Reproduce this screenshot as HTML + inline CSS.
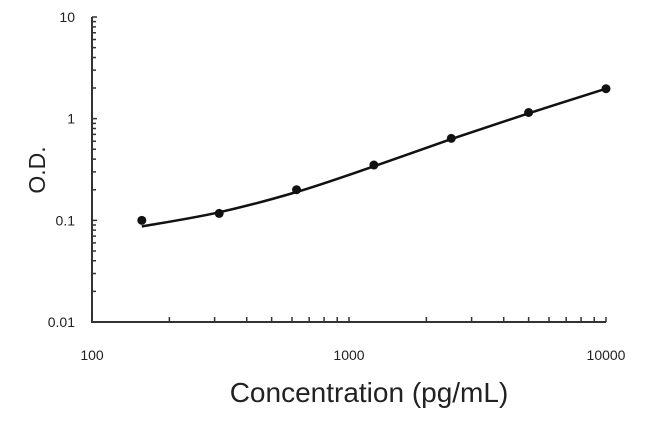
<!DOCTYPE html>
<html><head><meta charset="utf-8"><style>
body{margin:0;background:#fff;width:650px;height:431px;overflow:hidden}
text{font-family:"Liberation Sans",Arial,sans-serif;fill:#222}
</style></head><body>
<svg id="chart" width="650" height="431" viewBox="0 0 650 431"></svg>
<script>
const concentrations=[156.25,312.5,625,1250,2500,5000,10000];
const odValues=[0.1,0.117,0.2,0.35,0.64,1.15,1.97];
const fitConc=[156.25,312.5,625,1250,2500,5000,10000];
const fitOD=[0.087,0.12,0.19,0.34,0.63,1.13,1.97];
const xTickLabels=["100","1000","10000"];
const xTickValues=[100,1000,10000];
const yTickLabels=["0.01","0.1","1","10"];
const yTickValues=[0.01,0.1,1,10];
const X0=92,X1=606,Y0=322,Y1=17;
const xs=v=>X0+(Math.log10(v)-2)/2*(X1-X0);
const ys=v=>Y0-(Math.log10(v)+2)/3*(Y0-Y1);
const svg=document.getElementById('chart');
const NS='http://www.w3.org/2000/svg';
function mk(t,a,p){const e=document.createElementNS(NS,t);for(const k in a)e.setAttribute(k,a[k]);(p||svg).appendChild(e);return e;}
let ax=mk('path',{d:`M${X0},${Y1}V${Y0}H${X1}`,stroke:'#333','stroke-width':2,fill:'none'});


let d='';
for(let e=-2;e<1;e++)for(let m=1;m<=10;m++){const y=ys(m*Math.pow(10,e));d+=`M${X0},${y}h${m==1||m==10?5:4}`;}
for(let e=2;e<4;e++)for(let m=1;m<=10;m++){const x=xs(m*Math.pow(10,e));d+=`M${x},${Y0}v-5`;}
let tk=mk('path',{d:d,stroke:'#333','stroke-width':1.5,fill:'none'});


yTickLabels.forEach((l,i)=>{const t=mk('text',{x:75,y:ys(yTickValues[i])+5,'text-anchor':'end','font-size':14});t.textContent=l;

});
xTickLabels.forEach((l,i)=>{const t=mk('text',{x:xs(xTickValues[i]),y:360,'text-anchor':'middle','font-size':14});t.textContent=l;

});
let xt=mk('text',{x:369,y:402,'text-anchor':'middle','font-size':28});xt.textContent='Concentration  (pg/mL)';


let yt=mk('text',{x:0,y:0,'text-anchor':'middle','font-size':23,transform:'translate(45,170) rotate(-90)'});yt.textContent='O.D.';


const P=fitConc.map((c,i)=>[xs(c),ys(fitOD[i])]);
let pd=`M${P[0][0]},${P[0][1]}`;
for(let i=0;i<P.length-1;i++){const p0=P[Math.max(0,i-1)],p1=P[i],p2=P[i+1],p3=P[Math.min(P.length-1,i+2)];
pd+=`C${p1[0]+(p2[0]-p0[0])/6},${p1[1]+(p2[1]-p0[1])/6} ${p2[0]-(p3[0]-p1[0])/6},${p2[1]-(p3[1]-p1[1])/6} ${p2[0]},${p2[1]}`;}
let cv=mk('path',{d:pd,stroke:'#111','stroke-width':2.5,fill:'none'});


concentrations.forEach((c,i)=>{const p=mk('circle',{cx:xs(c),cy:ys(odValues[i]),r:4.5,fill:'#111'});

});
</script>
</body></html>
